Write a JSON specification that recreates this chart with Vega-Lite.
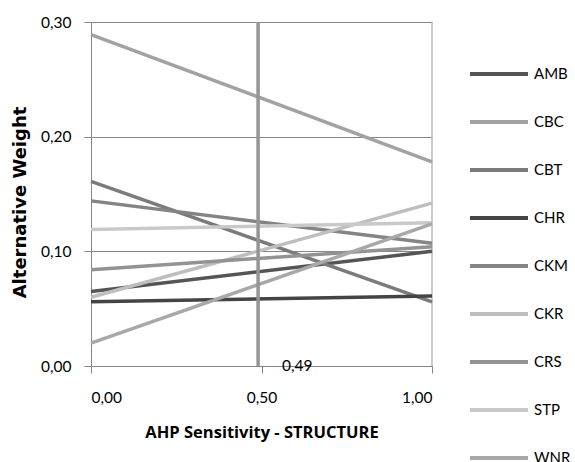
{
  "$schema": "https://vega.github.io/schema/vega-lite/v6.json",
  "autosize": "none",
  "padding": {"left": 91, "top": 22, "right": 143, "bottom": 96},
  "width": 341,
  "height": 344,
  "background": "white",
  "config": {
    "font": "Lato",
    "view": {"stroke": null}
  },
  "datasets": {
    "series": [
      {"alt": "AMB", "s": 0, "w": 0.065}, {"alt": "AMB", "s": 1, "w": 0.100},
      {"alt": "CBC", "s": 0, "w": 0.289}, {"alt": "CBC", "s": 1, "w": 0.178},
      {"alt": "CBT", "s": 0, "w": 0.161}, {"alt": "CBT", "s": 1, "w": 0.056},
      {"alt": "CHR", "s": 0, "w": 0.056}, {"alt": "CHR", "s": 1, "w": 0.061},
      {"alt": "CKM", "s": 0, "w": 0.144}, {"alt": "CKM", "s": 1, "w": 0.107},
      {"alt": "CKR", "s": 0, "w": 0.060}, {"alt": "CKR", "s": 1, "w": 0.142},
      {"alt": "CRS", "s": 0, "w": 0.084}, {"alt": "CRS", "s": 1, "w": 0.104},
      {"alt": "STP", "s": 0, "w": 0.119}, {"alt": "STP", "s": 1, "w": 0.125},
      {"alt": "WNR", "s": 0, "w": 0.020}, {"alt": "WNR", "s": 1, "w": 0.124}
    ],
    "marker": [
      {"s": 0.49, "w0": 0, "w1": 0.30, "label": "0,49"}
    ],
    "edge": [
      {"s": 1, "w0": 0, "w1": 0.30}
    ]
  },
  "layer": [
    {
      "data": {"name": "edge"},
      "mark": {"type": "rule", "color": "#b3bcc0", "strokeWidth": 1.5},
      "encoding": {
        "x": {"field": "s", "type": "quantitative"},
        "y": {"field": "w0", "type": "quantitative"},
        "y2": {"field": "w1"}
      }
    },
    {
      "data": {"name": "series"},
      "mark": {"type": "line", "strokeWidth": 3.5},
      "encoding": {
        "x": {
          "field": "s", "type": "quantitative",
          "scale": {"domain": [0, 1], "nice": false, "zero": false},
          "axis": {
            "values": [0, 0.5, 1],
            "labelExpr": "replace(format(datum.value, '.2f'), '.', ',')",
            "title": "AHP Sensitivity - STRUCTURE",
            "titleFont": "Open Sans", "titleFontSize": 16.5, "titleFontWeight": "bold", "titleColor": "#000000",
            "titlePadding": 19,
            "labelFont": "Lato", "labelFontSize": 15.5, "labelColor": "#000000", "labelPadding": 17,
            "domainColor": "#868686", "tickColor": "#868686", "tickSize": 7,
            "grid": false
          }
        },
        "y": {
          "field": "w", "type": "quantitative",
          "scale": {"domain": [0, 0.3], "nice": false},
          "axis": {
            "values": [0, 0.1, 0.2, 0.3],
            "labelExpr": "replace(format(datum.value, '.2f'), '.', ',')",
            "title": "Alternative Weight",
            "titleFont": "DejaVu Sans", "titleFontSize": 18, "titleFontWeight": "bold", "titleColor": "#000000",
            "titlePadding": 11,
            "titleY": 180,
            "labelFont": "Lato", "labelFontSize": 15.5, "labelColor": "#000000", "labelPadding": 13,
            "domainColor": "#868686", "tickColor": "#868686", "tickSize": 7,
            "grid": true, "gridColor": "#868686", "gridWidth": 1.2
          }
        },
        "color": {
          "field": "alt", "type": "nominal",
          "scale": {
            "domain": ["AMB", "CBC", "CBT", "CHR", "CKM", "CKR", "CRS", "STP", "WNR"],
            "range": ["#555555", "#a2a2a2", "#7b7b7b", "#444444", "#848484", "#bebebe", "#939393", "#c9c9c9", "#a8a8a8"]
          },
          "legend": {
            "title": null,
            "orient": "none",
            "legendX": 377,
            "legendY": 28,
            "symbolType": "stroke",
            "symbolSize": 3364,
            "symbolStrokeWidth": 4,
            "clipHeight": 48,
            "rowPadding": 0,
            "labelFont": "Lato",
            "labelFontSize": 15,
            "labelColor": "#000000",
            "labelOffset": 4
          }
        },
        "detail": {"field": "alt"}
      }
    },
    {
      "data": {"name": "marker"},
      "mark": {"type": "rule", "color": "#959595", "strokeWidth": 3.5},
      "encoding": {
        "x": {"field": "s", "type": "quantitative"},
        "y": {"field": "w0", "type": "quantitative"},
        "y2": {"field": "w1"}
      }
    },
    {
      "data": {"name": "marker"},
      "mark": {"type": "text", "align": "left", "baseline": "middle", "dx": 24, "font": "Lato", "fontSize": 15.5, "color": "#000000"},
      "encoding": {
        "x": {"field": "s", "type": "quantitative"},
        "y": {"field": "w0", "type": "quantitative"},
        "text": {"field": "label"}
      }
    }
  ]
}
